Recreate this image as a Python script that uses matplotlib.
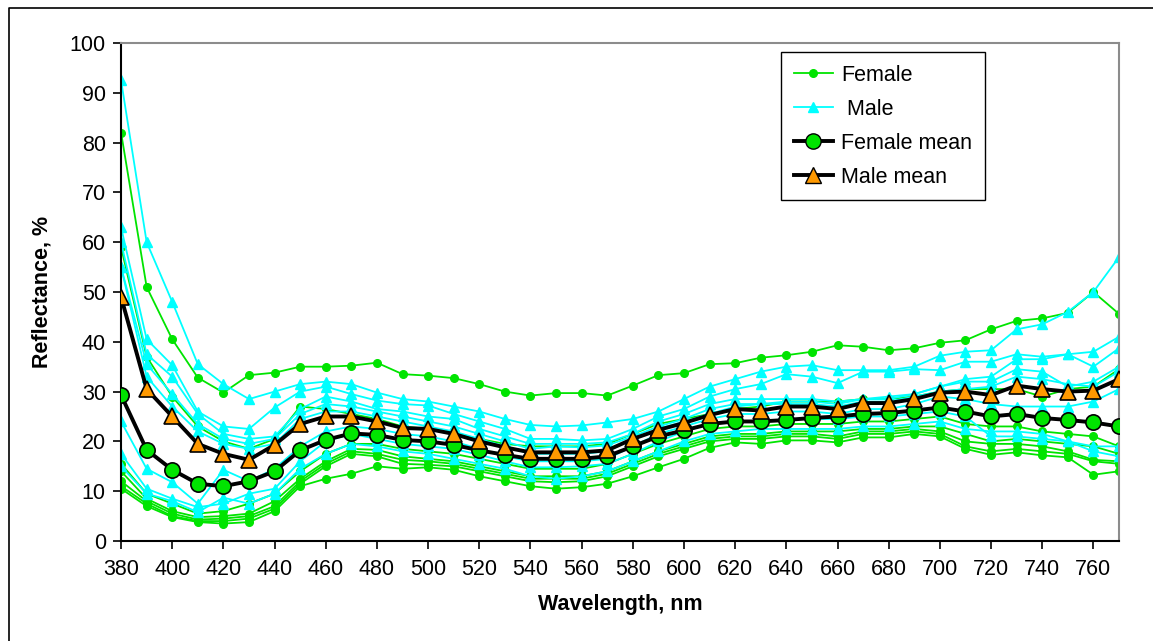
import matplotlib

matplotlib.use("Agg")
import matplotlib.pyplot as plt  # noqa: E402
from matplotlib.lines import Line2D  # noqa: E402

plt.rcParams["font.family"] = ["Liberation Sans", "DejaVu Sans"]

wavelength = list(range(380, 780, 10))

# individual female spectra
female = [
    [82, 51, 40.5, 32.8, 29.8, 33.3, 33.8, 35, 35, 35.2, 35.8, 33.5, 33.2, 32.7, 31.5, 30.0, 29.2, 29.7, 29.7, 29.2,
     31.2, 33.3, 33.7, 35.5, 35.7, 36.8, 37.3, 38, 39.3, 39, 38.3, 38.7, 39.8, 40.3, 42.5, 44.2, 44.7, 45.8, 50, 45.6],
    [59, 37, 29, 23, 20, 18.5, 20.5, 27, 26.5, 25.5, 24.5, 23, 22.5, 21.5, 20.5, 19.5, 19, 19, 19, 19.5,
     21.5, 23.5, 24.5, 25.5, 26.5, 27, 28, 28, 28, 28.5, 28.5, 29, 30, 30.5, 30.5, 30.5, 29, 30.5, 31, 34.5],
    [15.5, 9.5, 7.5, 5.5, 6, 7.5, 9.5, 14, 17.5, 19.5, 19.5, 18.5, 18, 17.5, 16.5, 15.5, 14.5, 14.5, 14.5, 15.5,
     17.5, 19.5, 21, 22.5, 23, 23, 23.5, 23.5, 23.5, 24, 24, 24.5, 25, 23.5, 23, 23, 22, 21.5, 21, 19],
    [14, 8.5, 6, 4.8, 5, 5.5, 8, 12.5, 16, 18.5, 18.3, 17, 16.5, 16, 15, 14, 13, 13, 13, 14,
     16, 18, 19.5, 21, 21.5, 21.5, 22, 22, 22, 22.5, 22.5, 23, 23, 21.5, 20, 20.5, 20, 19.5, 19, 17.5],
    [12, 8, 5.5, 4.3, 4.5, 5, 7, 12, 15.5, 18, 17.5, 16.3, 16, 15.5, 14.5, 13.5, 12.5, 12.5, 12.5, 13.5,
     15.5, 17.5, 19, 20.5, 21, 21, 21.5, 21.5, 21, 22, 22, 22.5, 22, 20, 19.5, 19.5, 19, 18, 16.3, 16],
    [11, 7.5, 5, 4, 4, 4.5, 6.5, 11.5, 15, 17.5, 17, 15.5, 15.3, 15, 14, 13, 12, 11.8, 12, 13,
     15, 17, 18.5, 20, 20.5, 20.5, 21, 21, 20.5, 21.5, 21.5, 22, 21.5, 19, 18, 18.5, 18, 17.5, 16, 15.5],
    [10.5, 7, 4.8, 3.8, 3.5, 3.8, 6, 11, 12.5, 13.5, 15, 14.5, 14.8, 14.3, 13, 12, 11, 10.5, 10.8, 11.5,
     13, 14.8, 16.5, 18.7, 19.8, 19.5, 20.2, 20.2, 19.8, 20.8, 20.8, 21.5, 21, 18.5, 17.3, 17.8, 17.2, 16.8, 13.3, 14],
]

# individual male spectra
male = [
    [92.5, 60, 48, 35.5, 31.5, 28.5, 30, 31.5, 32, 31.5, 29.8, 28.5, 28, 27, 26, 24.5, 23.3, 23, 23.2, 23.8,
     24.5, 26, 28.5, 31, 32.5, 34, 35, 35.3, 34.3, 34.3, 34.3, 35, 37.2, 38, 38.3, 42.5, 43.5, 46, 50, 57],
    [63, 40.5, 35.3, 26, 23, 22.5, 26.8, 30, 31, 29.5, 28.2, 27.5, 27.2, 25.5, 24, 22.5, 20.5, 20.5, 20.2, 20.5,
     22.5, 25, 26.5, 29, 30.5, 31.5, 33.5, 33, 31.7, 34, 34, 34.5, 34.3, 36, 36, 37.5, 37, 37.5, 38, 41],
    [60, 37.5, 33, 25.5, 21.5, 20.5, 21, 26.5, 29, 28, 26.5, 26, 25, 24.5, 22.5, 21, 19.5, 19.5, 19.5, 19.8,
     21.5, 24, 25.5, 27.5, 28.5, 28.5, 28.5, 28.5, 28, 28.5, 29, 29.5, 31, 32.5, 33, 36.5, 36.5, 37.5, 35, 38.7],
    [55, 35.5, 29.5, 23.5, 20.5, 19.5, 20.5, 25.5, 27.5, 27, 26, 25, 24, 23, 21.5, 20, 18.5, 19, 18.8, 19.2,
     21, 23, 24.5, 26.5, 27.5, 27.5, 28, 28, 27.5, 28.5, 28.5, 29.5, 31, 32, 32, 34.5, 34, 31, 32, 35],
    [55, 33, 27, 22, 19.5, 18.5, 19.5, 24.5, 26, 26, 25, 24, 23, 22, 20.5, 19, 17.5, 17.5, 17.5, 18,
     20.5, 22.5, 24, 25.5, 27, 27.5, 27.5, 27.5, 27, 28, 28, 29, 30, 30.5, 31, 33, 32.5, 31.5, 31, 34],
    [24, 14.5, 11.8, 7.5, 14.3, 12, 14.5, 19, 22, 23, 22.5, 21.5, 21, 20, 18.5, 17, 16, 16, 16, 16.5,
     19, 21.5, 23, 24.5, 25.5, 25.5, 26, 26, 25.5, 26.5, 26.5, 27.5, 29, 28.5, 27.5, 27, 27, 27, 28, 30.5],
    [17.5, 10.5, 8.5, 6.8, 7.5, 9.5, 10.5, 16, 20, 21.5, 20.5, 19.5, 19, 18.5, 17.3, 16, 14.8, 14.8, 15, 15.5,
     17.5, 20, 22, 23.5, 24, 24, 24.5, 24.5, 24.5, 25, 25, 25.5, 26, 25, 21, 21, 20.5, 20, 19, 19],
    [15, 9.5, 8, 5.8, 8.7, 7.5, 9.5, 14.5, 17.5, 19.5, 19, 18, 17.5, 16.5, 15.5, 14.5, 13, 12.5, 13, 14,
     16, 18, 20, 21.5, 22, 22.5, 22.5, 22.5, 22.5, 23, 23, 23.5, 24, 22.5, 22, 22, 21.5, 20, 18, 17],
]

female_mean = [29.3, 18.3, 14.3, 11.5, 11.0, 12.0, 14.0, 18.2, 20.3, 21.6, 21.3, 20.3, 20.0, 19.3, 18.2, 17.3,
               16.5, 16.5, 16.5, 17.0, 19.0, 21.0, 22.2, 23.5, 24.0, 24.0, 24.3, 24.7, 25.0, 25.5, 25.7, 26.2,
               26.8, 26.0, 25.0, 25.5, 24.7, 24.3, 23.8, 23.0]
male_mean = [49.0, 30.5, 25.0, 19.5, 17.5, 16.3, 19.3, 23.5, 25.0, 25.0, 24.0, 22.7, 22.5, 21.5, 20.0, 18.8,
             17.8, 17.8, 17.8, 18.2, 20.5, 22.3, 23.7, 25.3, 26.5, 26.2, 27.0, 27.0, 26.5, 27.7, 27.7, 28.5,
             29.8, 30.0, 29.3, 31.2, 30.5, 30.0, 30.2, 32.5]

x_ticks = list(range(380, 780, 20))

GREEN = "#00e400"
CYAN = "#00ffff"
ORANGE = "#ff9900"

fig = plt.figure(figsize=(11.53, 6.41), dpi=100)
ax = fig.add_axes([0.105, 0.156, 0.8655, 0.777])

for s in female:
    ax.plot(wavelength, s, color=GREEN, lw=1.3, marker="o", ms=5.5, zorder=2)
for s in male:
    ax.plot(wavelength, s, color=CYAN, lw=1.3, marker="^", ms=6.5, zorder=2)

ax.plot(wavelength, female_mean, color="black", lw=2.8, marker="o", ms=11,
        mfc=GREEN, mec="black", mew=1.2, zorder=4)
ax.plot(wavelength, male_mean, color="black", lw=2.8, marker="^", ms=12,
        mfc=ORANGE, mec="black", mew=1.2, zorder=5)

ax.set_xlim(380, 770)
ax.set_ylim(0, 100)
ax.set_yticks(range(0, 101, 10))
ax.set_xticks(x_ticks)
ax.tick_params(axis="both", labelsize=15.5, length=6, width=1.2, direction="out")
ax.tick_params(axis="x", pad=7)
ax.tick_params(axis="y", pad=5)

for side in ("top", "right"):
    ax.spines[side].set_color("#8c8c8c")
    ax.spines[side].set_linewidth(1.5)
for side in ("left", "bottom"):
    ax.spines[side].set_linewidth(1.5)

ax.set_xlabel("Wavelength, nm", fontsize=15.5, fontweight="bold", labelpad=10)
ax.set_ylabel("Reflectance, %", fontsize=15.5, fontweight="bold", labelpad=12)

handles = [
    Line2D([], [], color=GREEN, lw=1.3, marker="o", ms=5.5),
    Line2D([], [], color=CYAN, lw=1.3, marker="^", ms=6.5),
    Line2D([], [], color="black", lw=2.8, marker="o", ms=11, mfc=GREEN, mec="black"),
    Line2D([], [], color="black", lw=2.8, marker="^", ms=12, mfc=ORANGE, mec="black"),
]
leg = ax.legend(handles, ["Female", " Male", "Female mean", "Male mean"],
                loc="upper right", bbox_to_anchor=(0.866, 0.982), fontsize=15.5,
                fancybox=False, framealpha=1, edgecolor="black", handlelength=1.8,
                borderpad=0.6, labelspacing=0.6, handletextpad=0.4, borderaxespad=0)
leg.get_frame().set_linewidth(1.0)

# outer chart border
fig.add_artist(Line2D([9 / 1153, 9 / 1153, 1.0], [0.0, 1 - 8 / 641, 1 - 8 / 641],
                      color="black", lw=1.2, transform=fig.transFigure))

fig.savefig("out.png", dpi=100)
